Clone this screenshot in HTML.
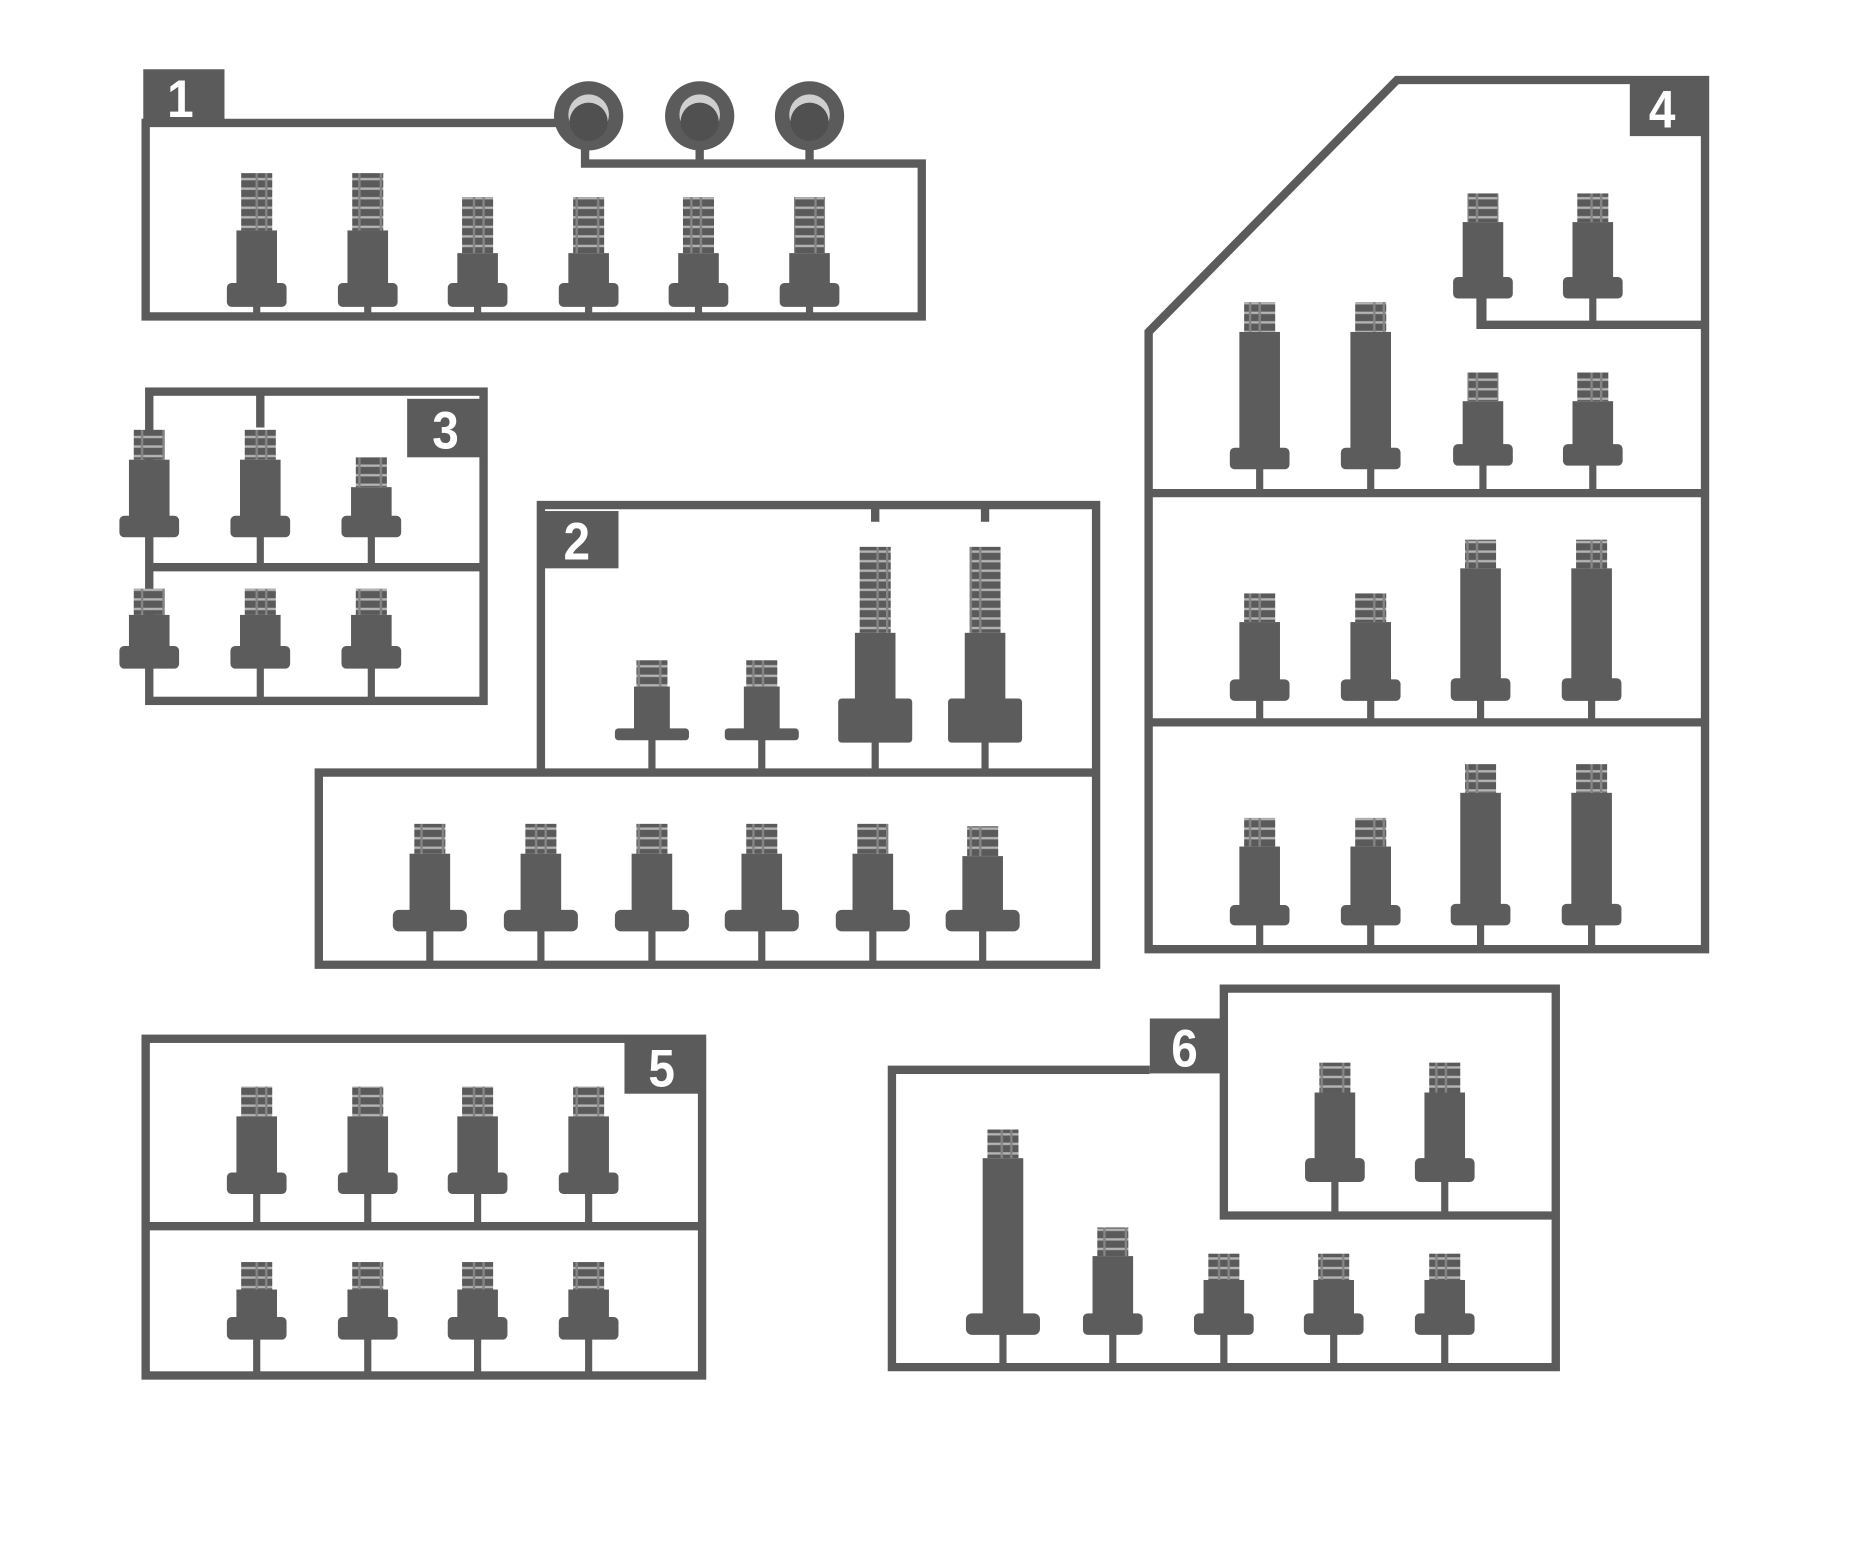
<!DOCTYPE html>
<html><head><meta charset="utf-8"><style>
html,body{margin:0;padding:0;background:#fff;width:1872px;height:1554px;overflow:hidden}
svg{display:block}
.f{fill:none;stroke:#5b5b5b;stroke-width:7;stroke-linejoin:miter}
.s rect{fill:#5c5c5c}
.s rect.t{fill:url(#thr)}
.lb{fill:#5b5b5b}
.lt{fill:#fff;font-family:"Liberation Sans Narrow","Liberation Sans",sans-serif;font-weight:bold;font-size:40px}
</style></head><body>
<svg width="1872" height="1554" viewBox="0 0 1560 1295" xmlns="http://www.w3.org/2000/svg">
<defs>
<pattern id="thr" width="26" height="8" patternUnits="userSpaceOnUse">
<rect width="26" height="8" fill="#5a5a5a"/><rect y="5" width="26" height="2" fill="#b4b4b4"/><rect x="6" width="2" height="8" fill="#858585"/><rect x="14" width="2" height="8" fill="#858585"/>
</pattern>
</defs>
<g transform="scale(0.995)">
<!-- BOX 1 -->
<polyline class="f" points="470,103 122,103 122,265 772,265 772,137 490,137 490,115"/>
<rect class="lb" x="120" y="58" width="68" height="46"/><text class="lt" x="140" y="98" transform="translate(0,-10) scale(1,1.1)">1</text>
<line class="f" x1="586" y1="120" x2="586" y2="137"/><line class="f" x1="678" y1="120" x2="678" y2="137"/>
<g><circle cx="493" cy="97" r="29" fill="#5b5b5b"/><circle cx="493" cy="96" r="17" fill="#cfcfcf"/><circle cx="493" cy="102" r="16" fill="#505050"/>
<circle cx="586" cy="97" r="29" fill="#5b5b5b"/><circle cx="586" cy="96" r="17" fill="#cfcfcf"/><circle cx="586" cy="102" r="16" fill="#505050"/>
<circle cx="678" cy="97" r="29" fill="#5b5b5b"/><circle cx="678" cy="96" r="17" fill="#cfcfcf"/><circle cx="678" cy="102" r="16" fill="#505050"/></g>
<g class="s">
<rect class="t" x="202" y="145" width="26" height="48"/><rect x="198" y="193" width="34" height="46"/><rect x="190" y="237" width="50" height="20" rx="4"/><rect x="212" y="255" width="6" height="10"/>
<rect class="t" x="295" y="145" width="26" height="48"/><rect x="291" y="193" width="34" height="46"/><rect x="283" y="237" width="50" height="20" rx="4"/><rect x="305" y="255" width="6" height="10"/>
<rect class="t" x="387" y="165" width="26" height="47"/><rect x="383" y="212" width="34" height="27"/><rect x="375" y="237" width="50" height="20" rx="4"/><rect x="397" y="255" width="6" height="10"/>
<rect class="t" x="480" y="165" width="26" height="47"/><rect x="476" y="212" width="34" height="27"/><rect x="468" y="237" width="50" height="20" rx="4"/><rect x="490" y="255" width="6" height="10"/>
<rect class="t" x="572" y="165" width="26" height="47"/><rect x="568" y="212" width="34" height="27"/><rect x="560" y="237" width="50" height="20" rx="4"/><rect x="582" y="255" width="6" height="10"/>
<rect class="t" x="665" y="165" width="26" height="47"/><rect x="661" y="212" width="34" height="27"/><rect x="653" y="237" width="50" height="20" rx="4"/><rect x="675" y="255" width="6" height="10"/>
</g>

<!-- BOX 3 -->
<rect class="f" x="125" y="328" width="280" height="259"/>
<line class="f" x1="125" y1="475" x2="402" y2="475"/>
<line class="f" x1="218" y1="328" x2="218" y2="358"/>
<rect class="lb" x="341" y="334" width="64" height="49"/><text class="lt" x="362" y="375" transform="translate(0,-37) scale(1,1.1)">3</text>
<g class="s">
<rect class="t" x="112" y="360" width="26" height="25"/><rect x="108" y="385" width="34" height="49"/><rect x="100" y="432" width="50" height="18" rx="4"/><rect x="122" y="448" width="6" height="27"/>
<rect class="t" x="205" y="360" width="26" height="25"/><rect x="201" y="385" width="34" height="49"/><rect x="193" y="432" width="50" height="18" rx="4"/><rect x="215" y="448" width="6" height="27"/>
<rect class="t" x="298" y="383" width="26" height="25"/><rect x="294" y="408" width="34" height="26"/><rect x="286" y="432" width="50" height="18" rx="4"/><rect x="308" y="448" width="6" height="27"/>
<rect class="t" x="112" y="493" width="26" height="22"/><rect x="108" y="515" width="34" height="28"/><rect x="100" y="541" width="50" height="19" rx="4"/><rect x="122" y="558" width="6" height="29"/>
<rect class="t" x="205" y="493" width="26" height="22"/><rect x="201" y="515" width="34" height="28"/><rect x="193" y="541" width="50" height="19" rx="4"/><rect x="215" y="558" width="6" height="29"/>
<rect class="t" x="298" y="493" width="26" height="22"/><rect x="294" y="515" width="34" height="28"/><rect x="286" y="541" width="50" height="19" rx="4"/><rect x="308" y="558" width="6" height="29"/>
</g>

<!-- BOX 2 -->
<polyline class="f" points="453,647 453,423 918,423 918,808 267,808 267,647 918,647"/>
<line class="f" x1="733" y1="423" x2="733" y2="437"/><line class="f" x1="825" y1="423" x2="825" y2="437"/>
<rect class="lb" x="453" y="428" width="65" height="48"/><text class="lt" x="472" y="468" transform="translate(0,-46) scale(1,1.1)">2</text>
<g class="s">
<rect class="t" x="533" y="553" width="26" height="22"/><rect x="531" y="575" width="30" height="37"/><rect x="515" y="610" width="62" height="10" rx="3"/><rect x="543" y="618" width="6" height="29"/>
<rect class="t" x="625" y="553" width="26" height="22"/><rect x="623" y="575" width="30" height="37"/><rect x="607" y="610" width="62" height="10" rx="3"/><rect x="635" y="618" width="6" height="29"/>
<rect class="t" x="720" y="458" width="26" height="72"/><rect x="716" y="530" width="34" height="57"/><rect x="702" y="585" width="62" height="37" rx="3"/><rect x="730" y="620" width="6" height="27"/>
<rect class="t" x="812" y="458" width="26" height="72"/><rect x="808" y="530" width="34" height="57"/><rect x="794" y="585" width="62" height="37" rx="3"/><rect x="822" y="620" width="6" height="27"/>
<rect class="t" x="347" y="690" width="26" height="25"/><rect x="343" y="715" width="34" height="49"/><rect x="329" y="762" width="62" height="18" rx="5"/><rect x="357" y="778" width="6" height="30"/>
<rect class="t" x="440" y="690" width="26" height="25"/><rect x="436" y="715" width="34" height="49"/><rect x="422" y="762" width="62" height="18" rx="5"/><rect x="450" y="778" width="6" height="30"/>
<rect class="t" x="533" y="690" width="26" height="25"/><rect x="529" y="715" width="34" height="49"/><rect x="515" y="762" width="62" height="18" rx="5"/><rect x="543" y="778" width="6" height="30"/>
<rect class="t" x="625" y="690" width="26" height="25"/><rect x="621" y="715" width="34" height="49"/><rect x="607" y="762" width="62" height="18" rx="5"/><rect x="635" y="778" width="6" height="30"/>
<rect class="t" x="718" y="690" width="26" height="25"/><rect x="714" y="715" width="34" height="49"/><rect x="700" y="762" width="62" height="18" rx="5"/><rect x="728" y="778" width="6" height="30"/>
<rect class="t" x="810" y="692" width="26" height="25"/><rect x="806" y="717" width="34" height="47"/><rect x="792" y="762" width="62" height="18" rx="5"/><rect x="820" y="778" width="6" height="30"/>
</g>

<!-- BOX 4 -->
<polygon class="f" points="962,278 1170,67 1428,67 1428,795 962,795"/>
<line class="f" x1="962" y1="413" x2="1425" y2="413"/><line class="f" x1="962" y1="605" x2="1425" y2="605"/>
<polyline class="f" points="1240,250 1240,272 1425,272"/>
<rect class="lb" x="1365" y="67" width="63" height="47"/><text class="lt" x="1381" y="106" transform="translate(0,-10) scale(1,1.1)">4</text>
<g class="s">
<rect class="t" x="1229" y="162" width="26" height="24"/><rect x="1225" y="186" width="34" height="48"/><rect x="1217" y="232" width="50" height="18" rx="4"/><rect x="1239" y="248" width="6" height="22"/>
<rect class="t" x="1321" y="162" width="26" height="24"/><rect x="1317" y="186" width="34" height="48"/><rect x="1309" y="232" width="50" height="18" rx="4"/><rect x="1331" y="248" width="6" height="22"/>
<rect class="t" x="1042" y="253" width="26" height="25"/><rect x="1038" y="278" width="34" height="99"/><rect x="1030" y="375" width="50" height="18" rx="4"/><rect x="1052" y="391" width="6" height="22"/>
<rect class="t" x="1135" y="253" width="26" height="25"/><rect x="1131" y="278" width="34" height="99"/><rect x="1123" y="375" width="50" height="18" rx="4"/><rect x="1145" y="391" width="6" height="22"/>
<rect class="t" x="1229" y="312" width="26" height="24"/><rect x="1225" y="336" width="34" height="38"/><rect x="1217" y="372" width="50" height="18" rx="4"/><rect x="1239" y="388" width="6" height="25"/>
<rect class="t" x="1321" y="312" width="26" height="24"/><rect x="1317" y="336" width="34" height="38"/><rect x="1309" y="372" width="50" height="18" rx="4"/><rect x="1331" y="388" width="6" height="25"/>
<rect class="t" x="1042" y="497" width="26" height="24"/><rect x="1038" y="521" width="34" height="50"/><rect x="1030" y="569" width="50" height="18" rx="4"/><rect x="1052" y="585" width="6" height="20"/>
<rect class="t" x="1135" y="497" width="26" height="24"/><rect x="1131" y="521" width="34" height="50"/><rect x="1123" y="569" width="50" height="18" rx="4"/><rect x="1145" y="585" width="6" height="20"/>
<rect class="t" x="1227" y="452" width="26" height="24"/><rect x="1223" y="476" width="34" height="94"/><rect x="1215" y="568" width="50" height="19" rx="4"/><rect x="1237" y="585" width="6" height="20"/>
<rect class="t" x="1320" y="452" width="26" height="24"/><rect x="1316" y="476" width="34" height="94"/><rect x="1308" y="568" width="50" height="19" rx="4"/><rect x="1330" y="585" width="6" height="20"/>
<rect class="t" x="1042" y="685" width="26" height="24"/><rect x="1038" y="709" width="34" height="51"/><rect x="1030" y="758" width="50" height="17" rx="4"/><rect x="1052" y="773" width="6" height="22"/>
<rect class="t" x="1135" y="685" width="26" height="24"/><rect x="1131" y="709" width="34" height="51"/><rect x="1123" y="758" width="50" height="17" rx="4"/><rect x="1145" y="773" width="6" height="22"/>
<rect class="t" x="1227" y="640" width="26" height="24"/><rect x="1223" y="664" width="34" height="95"/><rect x="1215" y="757" width="50" height="18" rx="4"/><rect x="1237" y="773" width="6" height="22"/>
<rect class="t" x="1320" y="640" width="26" height="24"/><rect x="1316" y="664" width="34" height="95"/><rect x="1308" y="757" width="50" height="18" rx="4"/><rect x="1330" y="773" width="6" height="22"/>
</g>

<!-- BOX 5 -->
<rect class="f" x="122" y="870" width="466" height="282"/>
<line class="f" x1="122" y1="1027" x2="585" y2="1027"/>
<rect class="lb" x="523" y="870" width="65" height="46"/><text class="lt" x="543" y="910" transform="translate(0,-91) scale(1,1.1)">5</text>
<g class="s">
<rect class="t" x="202" y="910" width="26" height="25"/><rect x="198" y="935" width="34" height="49"/><rect x="190" y="982" width="50" height="18" rx="4"/><rect x="212" y="998" width="6" height="29"/>
<rect class="t" x="295" y="910" width="26" height="25"/><rect x="291" y="935" width="34" height="49"/><rect x="283" y="982" width="50" height="18" rx="4"/><rect x="305" y="998" width="6" height="29"/>
<rect class="t" x="387" y="910" width="26" height="25"/><rect x="383" y="935" width="34" height="49"/><rect x="375" y="982" width="50" height="18" rx="4"/><rect x="397" y="998" width="6" height="29"/>
<rect class="t" x="480" y="910" width="26" height="25"/><rect x="476" y="935" width="34" height="49"/><rect x="468" y="982" width="50" height="18" rx="4"/><rect x="490" y="998" width="6" height="29"/>
<rect class="t" x="202" y="1057" width="26" height="23"/><rect x="198" y="1080" width="34" height="25"/><rect x="190" y="1103" width="50" height="19" rx="4"/><rect x="212" y="1120" width="6" height="32"/>
<rect class="t" x="295" y="1057" width="26" height="23"/><rect x="291" y="1080" width="34" height="25"/><rect x="283" y="1103" width="50" height="19" rx="4"/><rect x="305" y="1120" width="6" height="32"/>
<rect class="t" x="387" y="1057" width="26" height="23"/><rect x="383" y="1080" width="34" height="25"/><rect x="375" y="1103" width="50" height="19" rx="4"/><rect x="397" y="1120" width="6" height="32"/>
<rect class="t" x="480" y="1057" width="26" height="23"/><rect x="476" y="1080" width="34" height="25"/><rect x="468" y="1103" width="50" height="19" rx="4"/><rect x="490" y="1120" width="6" height="32"/>
</g>

<!-- BOX 6 -->
<polyline class="f" points="963,896 747,896 747,1145 1303,1145 1303,828 1025,828 1025,1018 1300,1018"/>
<rect class="lb" x="963" y="853" width="62" height="46"/><text class="lt" x="981" y="893" transform="translate(0,-89) scale(1,1.1)">6</text>
<g class="s">
<rect class="t" x="1105" y="890" width="26" height="25"/><rect x="1101" y="915" width="34" height="57"/><rect x="1093" y="970" width="50" height="20" rx="4"/><rect x="1115" y="988" width="6" height="30"/>
<rect class="t" x="1197" y="890" width="26" height="25"/><rect x="1193" y="915" width="34" height="57"/><rect x="1185" y="970" width="50" height="20" rx="4"/><rect x="1207" y="988" width="6" height="30"/>
<rect class="t" x="827" y="946" width="26" height="24"/><rect x="823" y="970" width="34" height="132"/><rect x="809" y="1100" width="62" height="18" rx="5"/><rect x="837" y="1116" width="6" height="29"/>
<rect class="t" x="919" y="1028" width="26" height="24"/><rect x="915" y="1052" width="34" height="50"/><rect x="907" y="1100" width="50" height="18" rx="4"/><rect x="929" y="1116" width="6" height="29"/>
<rect class="t" x="1012" y="1050" width="26" height="22"/><rect x="1008" y="1072" width="34" height="30"/><rect x="1000" y="1100" width="50" height="18" rx="4"/><rect x="1022" y="1116" width="6" height="29"/>
<rect class="t" x="1104" y="1050" width="26" height="22"/><rect x="1100" y="1072" width="34" height="30"/><rect x="1092" y="1100" width="50" height="18" rx="4"/><rect x="1114" y="1116" width="6" height="29"/>
<rect class="t" x="1197" y="1050" width="26" height="22"/><rect x="1193" y="1072" width="34" height="30"/><rect x="1185" y="1100" width="50" height="18" rx="4"/><rect x="1207" y="1116" width="6" height="29"/>
</g>
</g>
</svg>
</body></html>
